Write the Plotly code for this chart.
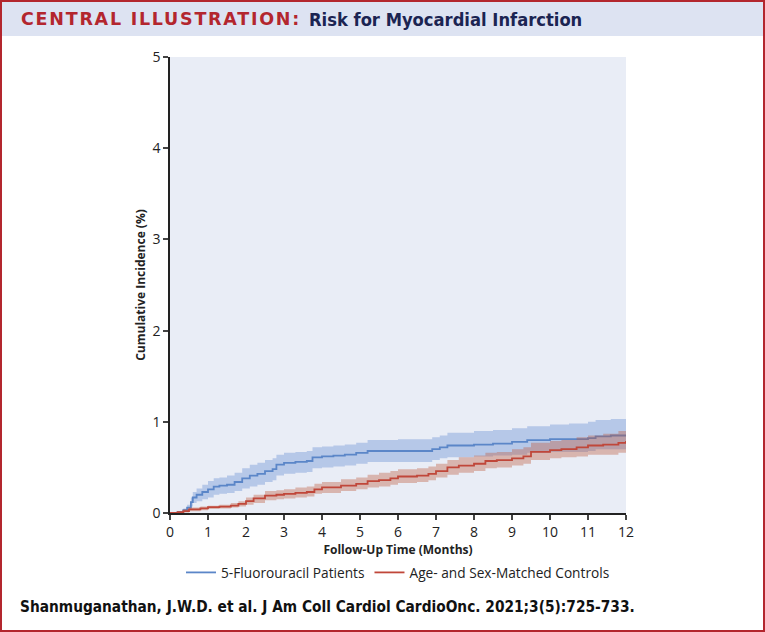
import plotly.graph_objects as go

# ---- data ----
blue_t = [0, 0.2, 0.35, 0.45, 0.55, 0.6, 0.7, 0.85, 1.0, 1.15, 1.3, 1.5, 1.7, 1.9, 2.1, 2.3, 2.5, 2.7, 2.8, 3.0, 3.3, 3.6, 3.75, 4.0, 4.3, 4.6, 4.9, 5.2, 6.0, 6.9, 7.1, 7.3, 8.0, 8.5, 9.0, 9.4, 10.0, 10.5, 11.0, 11.2, 11.6, 12.0]
blue_v = [0, 0.01, 0.03, 0.06, 0.12, 0.17, 0.20, 0.23, 0.26, 0.29, 0.30, 0.31, 0.34, 0.38, 0.41, 0.43, 0.46, 0.48, 0.53, 0.55, 0.56, 0.57, 0.61, 0.62, 0.63, 0.64, 0.66, 0.68, 0.68, 0.70, 0.72, 0.74, 0.75, 0.76, 0.78, 0.80, 0.81, 0.81, 0.82, 0.84, 0.85, 0.86]
blue_hi = [0, 0.02, 0.05, 0.09, 0.17, 0.23, 0.27, 0.31, 0.35, 0.38, 0.39, 0.41, 0.44, 0.49, 0.53, 0.55, 0.58, 0.60, 0.64, 0.66, 0.67, 0.68, 0.72, 0.73, 0.74, 0.75, 0.77, 0.80, 0.81, 0.83, 0.85, 0.88, 0.90, 0.91, 0.93, 0.95, 0.97, 0.98, 1.00, 1.02, 1.03, 1.04]
blue_lo = [0, 0, 0.01, 0.03, 0.07, 0.11, 0.13, 0.15, 0.17, 0.20, 0.21, 0.22, 0.24, 0.27, 0.29, 0.31, 0.34, 0.36, 0.41, 0.43, 0.44, 0.45, 0.49, 0.50, 0.51, 0.52, 0.54, 0.56, 0.56, 0.58, 0.60, 0.61, 0.62, 0.63, 0.64, 0.66, 0.67, 0.67, 0.68, 0.70, 0.70, 0.71]

red_t = [0, 0.2, 0.35, 0.5, 0.8, 1.0, 1.3, 1.6, 1.8, 2.0, 2.2, 2.5, 2.8, 3.0, 3.3, 3.6, 3.8, 4.0, 4.5, 4.9, 5.2, 5.5, 5.8, 6.0, 6.5, 6.8, 7.0, 7.3, 7.6, 8.0, 8.3, 8.6, 9.0, 9.3, 9.5, 10.0, 10.3, 10.7, 11.0, 11.4, 11.8, 12.0]
red_v = [0, 0.01, 0.02, 0.04, 0.05, 0.065, 0.07, 0.08, 0.10, 0.13, 0.16, 0.19, 0.20, 0.21, 0.22, 0.23, 0.26, 0.28, 0.30, 0.32, 0.35, 0.36, 0.38, 0.40, 0.41, 0.43, 0.46, 0.50, 0.52, 0.54, 0.57, 0.58, 0.60, 0.62, 0.67, 0.69, 0.70, 0.72, 0.74, 0.75, 0.77, 0.79]
red_hi = [0, 0.02, 0.04, 0.06, 0.07, 0.08, 0.09, 0.11, 0.13, 0.17, 0.20, 0.24, 0.25, 0.26, 0.28, 0.29, 0.32, 0.34, 0.37, 0.39, 0.42, 0.44, 0.46, 0.48, 0.49, 0.51, 0.54, 0.58, 0.61, 0.63, 0.66, 0.67, 0.70, 0.72, 0.77, 0.79, 0.80, 0.83, 0.85, 0.87, 0.90, 0.92]
red_lo = [0, 0, 0.005, 0.02, 0.03, 0.045, 0.05, 0.06, 0.07, 0.09, 0.11, 0.14, 0.15, 0.16, 0.17, 0.18, 0.21, 0.22, 0.24, 0.26, 0.28, 0.29, 0.31, 0.33, 0.34, 0.36, 0.39, 0.42, 0.44, 0.46, 0.49, 0.50, 0.52, 0.54, 0.58, 0.60, 0.61, 0.62, 0.64, 0.64, 0.66, 0.67]

x_ticks = list(range(0, 13))
y_ticks = [0, 1, 2, 3, 4, 5]

series_names = ["5-Fluorouracil Patients", "Age- and Sex-Matched Controls"]
title_red = "CENTRAL ILLUSTRATION:"
title_blue = "Risk for Myocardial Infarction"
citation = "Shanmuganathan, J.W.D. et al. J Am Coll Cardiol CardioOnc. 2021;3(5):725-733."

BLUE = "#5b86c8"
RED = "#c0473a"
BLUE_BAND = "rgba(100,140,210,0.38)"
RED_BAND = "rgba(190,90,60,0.38)"

fig = go.Figure()

def band(t, lo, hi, color):
    fig.add_trace(go.Scatter(x=t, y=lo, mode="lines", line=dict(width=0, shape="hv"),
                             showlegend=False, hoverinfo="skip"))
    fig.add_trace(go.Scatter(x=t, y=hi, mode="lines", line=dict(width=0, shape="hv"),
                             fill="tonexty", fillcolor=color, showlegend=False, hoverinfo="skip"))

band(blue_t, blue_lo, blue_hi, BLUE_BAND)
fig.add_trace(go.Scatter(x=blue_t, y=blue_v, mode="lines", name=series_names[0],
                         line=dict(color=BLUE, width=1.8, shape="hv")))
band(red_t, red_lo, red_hi, RED_BAND)
fig.add_trace(go.Scatter(x=red_t, y=red_v, mode="lines", name=series_names[1],
                         line=dict(color=RED, width=1.8, shape="hv")))

L, R, T, B = 170, 139, 57, 119
W, H = 765, 632
pw, ph = W - L - R, H - T - B

def px(xp):
    return (xp - L) / pw

def py(yp):
    return (H - B - yp) / ph

fig.update_layout(
    width=W, height=H,
    margin=dict(l=L, r=R, t=T, b=B),
    paper_bgcolor="white",
    plot_bgcolor="#e9edf6",
    font=dict(family="Open Sans, Noto Sans, sans-serif", color="#222222", size=13),
    showlegend=True,
    legend=dict(orientation="h", x=0.5, xanchor="center", y=py(557), yanchor="top",
                traceorder="normal",
                font=dict(size=13.7, color="#222222"), bgcolor="rgba(0,0,0,0)",
                itemwidth=30, tracegroupgap=0),
    xaxis=dict(range=[0, 12], tickvals=x_ticks, ticks="outside", ticklen=5, tickwidth=1.5,
               showline=True, linecolor="#222222", linewidth=1.5, showgrid=False, zeroline=False,
               tickfont=dict(size=14), fixedrange=True,
               title=dict(text="<b>Follow-Up Time (Months)</b>", font=dict(size=12), standoff=5)),
    yaxis=dict(range=[0, 5], tickvals=y_ticks, ticks="outside", ticklen=5, tickwidth=1.5,
               showline=True, linecolor="#222222", linewidth=1.5, showgrid=False, zeroline=False,
               tickfont=dict(size=14), fixedrange=True,
               title=dict(text="<b>Cumulative Incidence (%)</b>", font=dict(size=12), standoff=4)),
    shapes=[
        dict(type="rect", xref="paper", yref="paper", x0=px(2), x1=px(763), y0=py(36), y1=py(2),
             fillcolor="#dde3f2", line=dict(width=0), layer="below"),
        dict(type="rect", xref="paper", yref="paper", x0=px(1), x1=px(764), y0=py(631), y1=py(1),
             fillcolor="rgba(0,0,0,0)", line=dict(color="#b3262e", width=2)),
    ],
    annotations=[
        dict(xref="paper", yref="paper", x=px(19), y=py(19), xanchor="left", yanchor="middle",
             text="<b><span style='letter-spacing:1.75px'>" + title_red + "</span></b>",
             showarrow=False,
             font=dict(family="DejaVu Sans, Verdana, sans-serif", size=17.5, color="#b3262e")),
        dict(xref="paper", yref="paper", x=px(307), y=py(19), xanchor="left", yanchor="middle",
             text="<b>" + title_blue + "</b>", showarrow=False,
             font=dict(family="DejaVu Sans Condensed, Liberation Sans Narrow, sans-serif", size=18.2, color="#1b2452")),
        dict(xref="paper", yref="paper", x=px(18), y=py(607), xanchor="left", yanchor="middle",
             text="<b>" + citation + "</b>", showarrow=False,
             font=dict(family="DejaVu Sans Condensed, Liberation Sans Narrow, sans-serif", size=15.3, color="#111111")),
    ],
)

fig.write_html("out.html", config={"displayModeBar": False},
               post_script="document.body.style.margin='0';document.body.style.padding='0';")
